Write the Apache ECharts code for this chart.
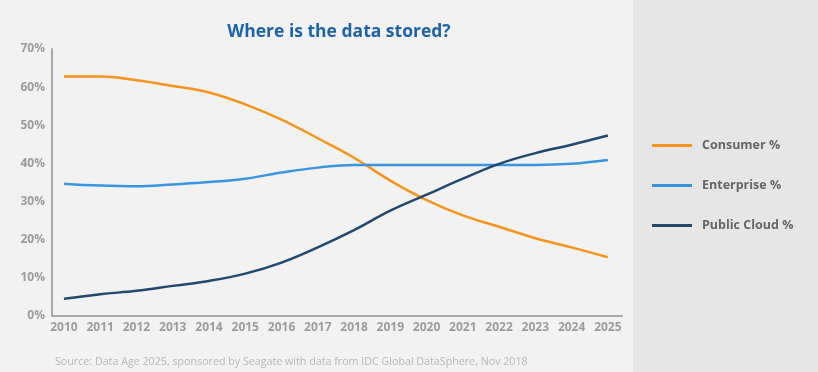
<!DOCTYPE html>
<html>
<head>
<meta charset="utf-8">
<script src="https://cdn.jsdelivr.net/npm/echarts@6/dist/echarts.min.js"></script>
<style>html,body{margin:0;padding:0;background:#f2f2f2}#c{width:818px;height:372px}</style>
</head>
<body>
<div id="c"></div>
<script>
const years = [2010,2011,2012,2013,2014,2015,2016,2017,2018,2019,2020,2021,2022,2023,2024,2025];
const consumer = [62.8,62.8,61.8,60.3,58.6,55.5,51.5,46.6,41.5,35.5,30.4,26.4,23.4,20.4,18.0,15.4];
const enterprise = [34.7,34.2,34.0,34.5,35.1,36.0,37.6,38.9,39.6,39.6,39.6,39.6,39.6,39.6,39.9,40.9];
const publicCloud = [4.5,5.7,6.6,7.9,9.2,11.1,14.0,18.0,22.5,27.6,31.8,36.0,39.9,42.7,44.9,47.3];
const yTicks = [0,10,20,30,40,50,60,70];
const seriesNames = ['Consumer %','Enterprise %','Public Cloud %'];
const colors = ['#f7941d','#3b95de','#22486e'];

const pair = arr => arr.map((v,i)=>[years[i], v]);
const font = '"Open Sans", sans-serif';

const chart = echarts.init(document.getElementById('c'), null, {renderer:'canvas'});
chart.setOption({
  backgroundColor:'#f2f2f2',
  animation:false,
  color: colors,
  title:[{
    text:'Where is the data stored?',
    left:334, top:18, textAlign:'center',
    textStyle:{color:'#1c63ac', fontSize:17.5, fontWeight:'bold', fontFamily:font}
  },{
    text:'Source: Data Age 2025, sponsored by Seagate with data from IDC Global DataSphere, Nov 2018',
    left:50, top:351,
    textStyle:{color:'#b8b8b8', fontSize:10.7, fontWeight:'normal', fontFamily:font}
  }],
  graphic:[{
    type:'rect', left:633, top:0, z:-1,
    shape:{width:185, height:372},
    style:{fill:'#e6e6e6'}
  }],
  legend:{
    orient:'vertical', left:647, top:134,
    itemWidth:40, itemHeight:3, itemGap:27,
    icon:'rect',
    data: seriesNames,
    textStyle:{color:'#666', fontSize:12.5, fontWeight:'bold', fontFamily:font, padding:[0,0,0,5]}
  },
  grid:{left:52, right:196, top:49, bottom:56, containLabel:false},
  xAxis:{
    type:'value', min:2009.67, max:2025.39,
    axisLine:{lineStyle:{color:'#a8a8a8', width:2}},
    axisTick:{show:false},
    splitLine:{show:false},
    axisLabel:{customValues: years, color:'#9c9c9c', fontSize:12, fontWeight:'bold', fontFamily:font, margin:6, formatter: v=>String(v)}
  },
  yAxis:{
    type:'value', min:0, max:70, interval:10,
    axisLine:{show:true, lineStyle:{color:'#a8a8a8', width:2}},
    axisTick:{show:false},
    splitLine:{show:false},
    axisLabel:{color:'#9c9c9c', fontSize:12, fontWeight:'bold', fontFamily:font, margin:7, formatter: v=> yTicks.includes(v) ? v+'%' : ''}
  },
  series:[
    {name:seriesNames[0], type:'line', data:pair(consumer), smooth:0.4, showSymbol:false, lineStyle:{width:2.5}},
    {name:seriesNames[1], type:'line', data:pair(enterprise), smooth:0.4, showSymbol:false, lineStyle:{width:2.5}},
    {name:seriesNames[2], type:'line', data:pair(publicCloud), smooth:0.4, showSymbol:false, lineStyle:{width:2.5}}
  ]
});
</script>
</body>
</html>
